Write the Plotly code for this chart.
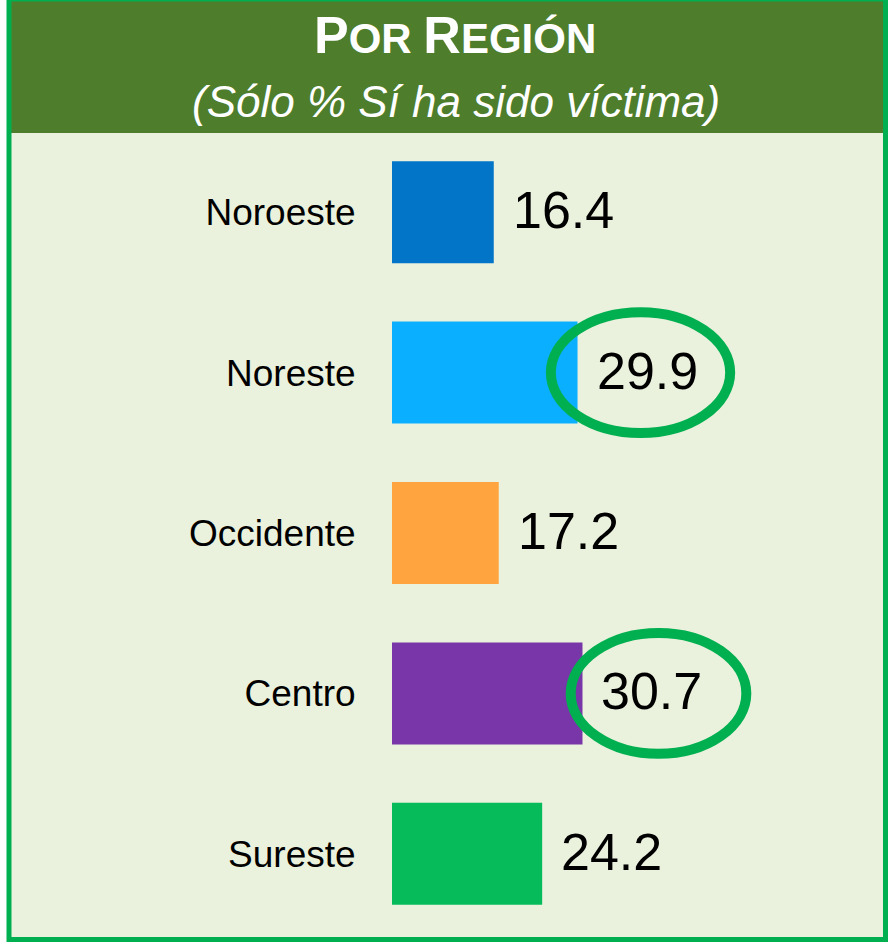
import plotly.graph_objects as go

# ---- data ----
regions = ["Noroeste", "Noreste", "Occidente", "Centro", "Sureste"]
values = [16.4, 29.9, 17.2, 30.7, 24.2]
bar_colors = ["#0275C8", "#0AAFFF", "#FFA43F", "#7836A8", "#06BB5A"]
highlighted = ["Noreste", "Centro"]
title_main = "Por Región"
title_sub = "(Sólo % Sí ha sido víctima)"

W, H = 893, 944
L, R, T, B = 392, 8, 132, 10
PW, PH = W - L - R, H - T - B
PX_PER_UNIT = 6.205
XMAX = PW / PX_PER_UNIT

def px_x(px):
    return (px - L) / PW

def px_y(py):
    return 1 - (py - T) / PH

FONT = "Liberation Sans, Arial, Helvetica, sans-serif"

fig = go.Figure(go.Bar(
    x=values, y=regions, orientation="h",
    marker=dict(color=bar_colors, line=dict(width=0)),
    width=0.636, hoverinfo="skip",
))

shapes = []
# background panel
shapes.append(dict(type="rect", xref="paper", yref="paper",
                   x0=px_x(9), x1=px_x(885.5), y0=px_y(939.5), y1=px_y(-1),
                   fillcolor="#EAF1DD", line=dict(width=0), layer="below"))
# header band
shapes.append(dict(type="rect", xref="paper", yref="paper",
                   x0=px_x(11), x1=px_x(883), y0=px_y(133), y1=px_y(-1),
                   fillcolor="#4E7D2B", line=dict(width=0), layer="below"))
# border
shapes.append(dict(type="rect", xref="paper", yref="paper",
                   x0=px_x(9), x1=px_x(885.5), y0=px_y(939.5), y1=px_y(-1),
                   fillcolor="rgba(0,0,0,0)", line=dict(width=5, color="#00B050"), layer="below"))

# highlight ellipses around value labels (hand-drawn look: slightly different extents)
ellipse_pad = {"Noreste": (4.3, 24.6), "Centro": (1.9, 26.4)}
for i, (r, v) in enumerate(zip(regions, values)):
    if r in highlighted:
        lp, rp = ellipse_pad.get(r, (3.1, 25.5))
        shapes.append(dict(type="circle", xref="x", yref="y",
                           x0=v - lp, x1=v + rp, y0=i - 0.377, y1=i + 0.377,
                           line=dict(width=10, color="#00B050"), layer="above"))

annotations = []
for i, (r, v) in enumerate(zip(regions, values)):
    annotations.append(dict(x=v, y=r, xref="x", yref="y", text=f"{v:.1f}",
                            xanchor="left", yanchor="middle", showarrow=False,
                            xshift=17, yshift=2,
                            font=dict(family=FONT, size=52, color="black")))

t = title_main.upper()
main_html = (f"<span style='font-size:52px'>{t[0]}</span>{t[1:4]}"
             f"<span style='font-size:52px'>{t[4]}</span>{t[5:]}")
annotations.append(dict(x=px_x(455), y=px_y(35), xref="paper", yref="paper",
                        text=f"<b>{main_html}</b>", showarrow=False,
                        xanchor="center", yanchor="middle",
                        font=dict(family=FONT, size=42, color="white")))
annotations.append(dict(x=px_x(456), y=px_y(101), xref="paper", yref="paper",
                        text=f"<i>{title_sub}</i>", showarrow=False,
                        xanchor="center", yanchor="middle",
                        font=dict(family=FONT, size=44, color="white")))

fig.update_layout(
    width=W, height=H,
    margin=dict(l=L, r=R, t=T, b=B, pad=0),
    paper_bgcolor="white", plot_bgcolor="rgba(0,0,0,0)",
    showlegend=False,
    shapes=shapes, annotations=annotations,
    xaxis=dict(range=[0, XMAX], visible=False, fixedrange=True),
    yaxis=dict(range=[4.5, -0.5], type="category", showgrid=False, zeroline=False,
               showline=False, ticks="outside", ticklen=28, tickcolor="rgba(0,0,0,0)",
               tickfont=dict(family=FONT, size=37, color="black"), fixedrange=True),
)

fig.write_html("out.html", config={"displayModeBar": False},
               post_script="document.body.style.margin='0px';")
